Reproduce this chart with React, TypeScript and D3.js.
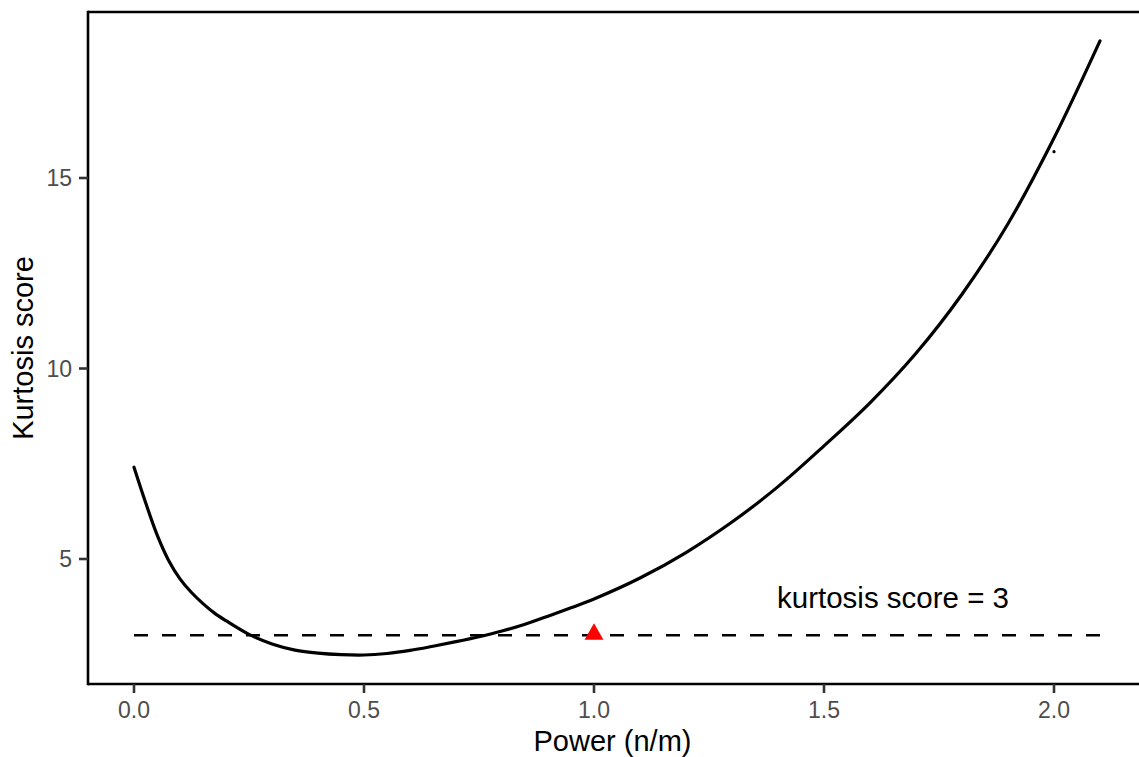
import React from "react";
import * as d3 from "d3";

const powerX = [0, 0.025, 0.05, 0.075, 0.1, 0.125, 0.15, 0.175, 0.2, 0.25, 0.3, 0.35, 0.4, 0.45, 0.5, 0.55, 0.6, 0.65, 0.7, 0.75, 0.8, 0.85, 0.9, 0.95, 1.0, 1.1, 1.2, 1.3, 1.4, 1.5, 1.6, 1.7, 1.8, 1.9, 2.0, 2.1];
const kurtY = [7.41, 6.49, 5.64, 4.97, 4.48, 4.12, 3.83, 3.58, 3.38, 3.02, 2.77, 2.61, 2.53, 2.49, 2.48, 2.52, 2.6, 2.71, 2.83, 2.96, 3.11, 3.29, 3.5, 3.72, 3.95, 4.5, 5.17, 5.97, 6.9, 7.97, 9.1, 10.4, 11.95, 13.8, 16.05, 18.6];

const refLevel = 3;
const markerX = 1.0;
const markerY = 3;
const dotX = 2.0;
const dotY = 15.69;
const xTicks = [0, 0.5, 1.0, 1.5, 2.0];
const yTicks = [5, 10, 15];
const annoText = "kurtosis score = 3";
const annoX = 1.65;
const annoY = 3.98;
const xTitle = "Power (n/m)";
const yTitle = "Kurtosis score";

export default function App() {
  const W = 1139, H = 757;
  const x = d3.scaleLinear().domain([0, 2]).range([134, 1054]);
  const y = d3.scaleLinear().domain([5, 15]).range([559, 178]);
  const xMin = d3.min(powerX)!, xMax = d3.max(powerX)!;
  const px0 = 88, px1 = W + 10;
  const py0 = 684, py1 = 12;
  const pts: [number, number][] = powerX.map((d, i) => [d, kurtY[i]]);
  const line = d3.line<[number, number]>().x(d => x(d[0])).y(d => y(d[1])).curve(d3.curveCatmullRom.alpha(0.5));
  const tri = d3.symbol().type(d3.symbolTriangle).size(155)()!;
  const font = "Liberation Sans, Arial, Helvetica, sans-serif";
  return (
    <svg width={W} height={H} style={{ position: "absolute", left: 0, top: 0, background: "#fff" }} fontFamily={font}>
      <rect x={0} y={0} width={W} height={H} fill="#fff" />
      <line x1={x(xMin)} x2={x(xMax)} y1={y(refLevel)} y2={y(refLevel)} stroke="#000" strokeWidth={2.6} strokeDasharray="14,14" />
      <path d={line(pts)!} fill="none" stroke="#000" strokeWidth={3.2} strokeLinecap="round" />
      <path d={tri} transform={`translate(${x(markerX)},${y(markerY) - 1})`} fill="#ff0000" />
      <circle cx={x(dotX)} cy={y(dotY)} r={1.6} fill="#000" />
      <text x={x(annoX)} y={y(annoY)} textAnchor="middle" dominantBaseline="central" fontSize={29.5} fill="#000">{annoText}</text>
      <line x1={px0} x2={px1} y1={py0} y2={py0} stroke="#000" strokeWidth={2.6} />
      <line x1={px0} x2={px1} y1={py1} y2={py1} stroke="#000" strokeWidth={2.6} />
      <line x1={px0} x2={px0} y1={py1 - 1.3} y2={py0 + 1.3} stroke="#000" strokeWidth={2.6} />
      {xTicks.map(t => (
        <g key={"x" + t}>
          <line x1={x(t)} x2={x(t)} y1={py0} y2={py0 + 9} stroke="#333" strokeWidth={2.6} />
          <text x={x(t)} y={710} textAnchor="middle" dominantBaseline="central" fontSize={23} fill="#4d4d4d">{t.toFixed(1)}</text>
        </g>
      ))}
      {yTicks.map(t => (
        <g key={"y" + t}>
          <line x1={px0 - 9} x2={px0} y1={y(t)} y2={y(t)} stroke="#333" strokeWidth={2.6} />
          <text x={72} y={y(t)} textAnchor="end" dominantBaseline="central" fontSize={23} fill="#4d4d4d">{t}</text>
        </g>
      ))}
      <text x={(px0 + 1137) / 2} y={741} textAnchor="middle" dominantBaseline="central" fontSize={29} fill="#000">{xTitle}</text>
      <text transform={`translate(23,${(py0 + py1) / 2}) rotate(-90)`} textAnchor="middle" dominantBaseline="central" fontSize={29} fill="#000">{yTitle}</text>
    </svg>
  );
}
